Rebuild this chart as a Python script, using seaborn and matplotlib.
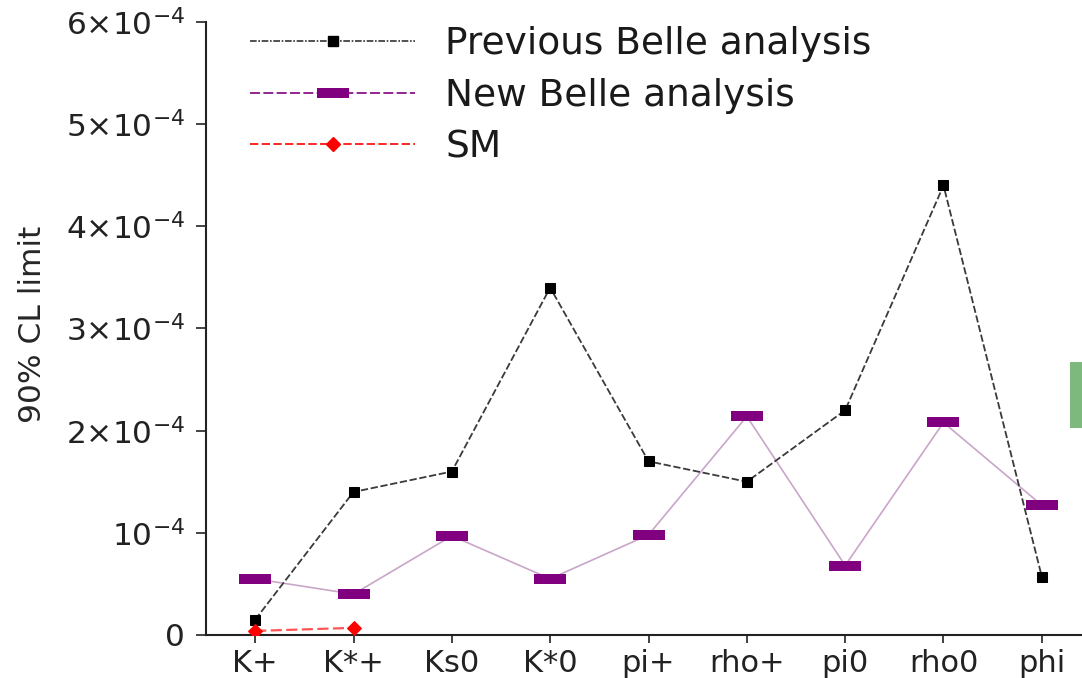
import numpy as np
import pandas as pd
import matplotlib
matplotlib.use("Agg")
import matplotlib.pyplot as plt
from matplotlib.lines import Line2D
from matplotlib.patches import Rectangle
import seaborn as sns

# Decay channels and 90% CL upper limits
channels = ["K+", "K*+", "Ks0", "K*0", "pi+", "rho+", "pi0", "rho0", "phi"]
previous_belle = [1.5e-5, 1.40e-4, 1.60e-4, 3.40e-4, 1.70e-4, 1.50e-4, 2.20e-4, 4.40e-4, 5.7e-5]
new_belle = [5.5e-5, 4.0e-5, 9.7e-5, 5.5e-5, 9.8e-5, 2.14e-4, 6.8e-5, 2.08e-4, 1.27e-4]
sm_channels = ["K+", "K*+"]
sm_values = [4e-6, 7e-6]

ytick_values = [0, 1e-4, 2e-4, 3e-4, 4e-4, 5e-4, 6e-4]
ytick_labels = ["0", r"$10^{-4}$", r"$2{\times}10^{-4}$", r"$3{\times}10^{-4}$",
                r"$4{\times}10^{-4}$", r"$5{\times}10^{-4}$", r"$6{\times}10^{-4}$"]

sns.set_theme(style="ticks")
plt.rcParams["font.family"] = ["DejaVu Sans"]
plt.rcParams["mathtext.fontset"] = "dejavusans"

pos = {c: i for i, c in enumerate(channels)}
df_prev = pd.DataFrame({"x": [pos[c] for c in channels], "y": previous_belle})
df_new = pd.DataFrame({"x": [pos[c] for c in channels], "y": new_belle})
df_sm = pd.DataFrame({"x": [pos[c] for c in sm_channels], "y": sm_values})

fig = plt.figure(figsize=(10.82, 6.78), dpi=100)
ax = fig.add_axes([206 / 1082, 43 / 678, 885 / 1082, 613 / 678])

purple = "#800080"
bar_marker = [(-1.6, -0.5), (1.6, -0.5), (1.6, 0.5), (-1.6, 0.5), (-1.6, -0.5)]

# New analysis: thin pale line with wide bar markers
sns.lineplot(data=df_new, x="x", y="y", ax=ax, color="#c9a6c9", linewidth=1.2,
             marker=bar_marker, markersize=22.5, markerfacecolor=purple,
             markeredgecolor=purple, markeredgewidth=0, zorder=2)
# Previous analysis: dashed black with square markers
sns.lineplot(data=df_prev, x="x", y="y", ax=ax, color="#3a3a3a", linewidth=1.3,
             linestyle=(0, (4, 1.5)), marker="s", markersize=6.5,
             markerfacecolor="black", markeredgecolor="black", zorder=3)
# Standard Model expectation
sns.lineplot(data=df_sm, x="x", y="y", ax=ax, color="#ff5555", linewidth=1.6,
             linestyle=(0, (5, 2)), marker="D", markersize=7,
             markerfacecolor="red", markeredgecolor="red", zorder=4)

ax.set_xlim(-0.5, len(channels) - 0.5)
ax.set_ylim(0, 6e-4)
ax.set_xticks(range(len(channels)))
ax.set_xticklabels(channels, fontsize=22)
ax.set_yticks(ytick_values)
ax.set_yticklabels(ytick_labels, fontsize=22.5)
ax.set_xlabel("")
ax.set_ylabel("90% CL limit", fontsize=22.5)
ax.yaxis.set_label_coords(-0.180, 0.506)
ax.tick_params(axis="y", length=7, width=1.2, pad=8, colors="#222222")
ax.tick_params(axis="x", length=6, width=1.2, pad=4, colors="#222222")
for s in ("top", "right"):
    ax.spines[s].set_visible(False)
for s in ("left", "bottom"):
    ax.spines[s].set_linewidth(1.5)
    ax.spines[s].set_color("#222222")

handles = [
    Line2D([], [], color="#333333", linewidth=1.2, linestyle=(0, (4, 1, 1, 1)),
           marker="s", markersize=6.5, markerfacecolor="black", markeredgecolor="black"),
    Line2D([], [], color=purple, linewidth=1.2, linestyle=(0, (6, 2)),
           marker=bar_marker, markersize=22.5, markerfacecolor=purple,
           markeredgecolor=purple, markeredgewidth=0),
    Line2D([], [], color="red", linewidth=1.2, linestyle=(0, (5, 2)),
           marker="D", markersize=7, markerfacecolor="red", markeredgecolor="red"),
]
labels = ["Previous Belle analysis", "New Belle analysis", "SM"]
leg = fig.legend(handles, labels, loc="upper left", bbox_to_anchor=(250 / 1082, 1 - 26 / 678),
                 frameon=False, borderpad=0, borderaxespad=0, numpoints=1,
                 handlelength=4.4, handletextpad=0.8, labelspacing=0.42,
                 prop={"family": "DejaVu Sans", "size": 27})
for t in leg.get_texts():
    t.set_color("#1a1a1a")

# Green tab at the right edge
fig.patches.append(Rectangle((1070 / 1082, 1 - 428 / 678), 14 / 1082, 66 / 678,
                             transform=fig.transFigure, facecolor="#7db87c",
                             edgecolor="none", zorder=5))

fig.savefig("out.png", dpi=100)
